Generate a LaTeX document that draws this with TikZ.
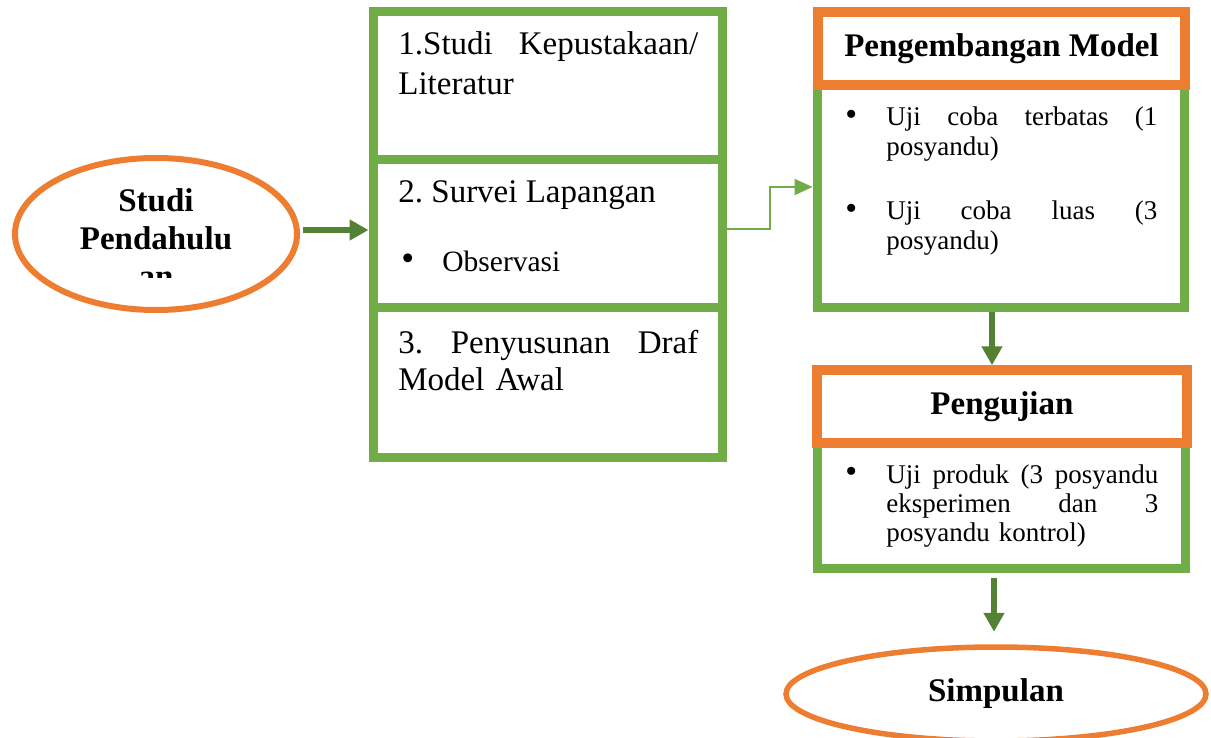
\documentclass[tikz,border=0pt]{standalone}
\usepackage{fontspec}
\setmainfont{Liberation Serif}
\usetikzlibrary{arrows.meta,shapes.geometric}
\definecolor{grn}{HTML}{70AD47}
\definecolor{org}{HTML}{ED7D31}
\definecolor{dgrn}{HTML}{548235}
\newcommand{\bul}{\makebox[20.5pt][l]{\raisebox{0.3pt}{\scalebox{1.25}{•}}}}
\frenchspacing
\begin{document}
\begin{tikzpicture}[x=0.5pt,y=-0.5pt,
  gbox/.style={draw=grn,line width=4.5pt,rectangle,inner sep=0pt},
  obox/.style={draw=org,fill=white,line width=4.75pt,rectangle,inner sep=0pt,font=\fontsize{16.5}{19}\selectfont\bfseries},
  oell/.style={ellipse,draw=org,inner sep=0pt,font=\fontsize{16.5}{19}\selectfont\bfseries},
  txt/.style={inner sep=0pt,anchor=base west,align=left,font=\fontsize{16.5}{19}\selectfont},
  btxt/.style={txt,text width=157pt,font=\fontsize{13.5}{14.75}\selectfont},
  darrow/.style={draw=dgrn,line width=2.75pt,-{Triangle[length=9.5pt,width=10pt]}},
  tarrow/.style={draw=grn,line width=1pt,-{Triangle[length=9pt,width=8pt]}}
]
\path[use as bounding box,fill=white] (0,0) rectangle (1211,738);

% left stack
\node[gbox,minimum width=174.5pt,minimum height=74pt] (s1) at (547.5,86) {};
\node[gbox,minimum width=174.5pt,minimum height=73.5pt] (s2) at (547.5,233.5) {};
\node[gbox,minimum width=174.5pt,minimum height=75pt] (s3) at (547.5,382) {};

\node[txt,text width=150pt,font=\fontsize{16.5}{20}\selectfont] (t1) at (398,55)
  {\makebox[150pt][l]{1.Studi\hfill Kepustakaan/}\\Literatur};
\node[txt] (t2) at (398,203) {2. Survei Lapangan};
\node[txt,font=\fontsize{14.75}{17}\selectfont] (t2b) at (401,271) {\bul Observasi};
\node[txt,text width=150pt,font=\fontsize{16.5}{18.5}\selectfont] (t3) at (398,353)
  {\makebox[150pt][l]{3.\hfill Penyusunan\hfill Draf}\\Model Awal};

% Pengembangan Model
\node[gbox,minimum width=183.5pt,minimum height=111pt] (pmbody) at (1000.5,196) {};
\node[obox,minimum width=183.5pt,minimum height=36.5pt] (pmhead) at (1001.5,48.5) {Pengembangan Model};
\node[btxt] (b1) at (845,126)
  {\bul\makebox[135.5pt][l]{Uji\hfill coba\hfill terbatas\hfill (1}\\\hspace*{20.5pt}posyandu)};
\node[btxt] (b2) at (845,220)
  {\bul\makebox[135.5pt][l]{Uji\hfill coba\hfill luas\hfill (3}\\\hspace*{20.5pt}posyandu)};

% Pengujian
\node[gbox,minimum width=184pt,minimum height=62.5pt] (pgbody) at (1001,505.5) {};
\node[obox,minimum width=185pt,minimum height=36.5pt] (pghead) at (1002,406.5) {Pengujian};
\node[btxt,font=\fontsize{13.5}{14.5}\selectfont] (b3) at (845,483)
  {\bul\makebox[136pt][l]{Uji\hfill produk\hfill (3\hfill posyandu}\\\hspace*{20.5pt}\makebox[136pt][l]{eksperimen\hfill dan\hfill 3}\\\hspace*{20.5pt}posyandu kontrol)};

% ellipses
\node[oell,line width=3pt,minimum width=141pt,minimum height=76pt] (studi) at (156,234) {};
\begin{scope}
\clip (0,0) rectangle (1211,277);
\node[font=\fontsize{16.5}{19}\selectfont\bfseries,text width=100pt,align=center,inner sep=0pt,anchor=base] (studitxt) at (156,212) {Studi\\Pendahulu\\an};
\end{scope}
\node[oell,line width=2.75pt,minimum width=210pt,minimum height=47pt] (simp) at (996,694) {Simpulan};

% connectors
\draw[darrow] ([xshift=1.5pt,yshift=2pt]studi.east) -- ([yshift=1.75pt]s2.west);
\draw[tarrow] ([yshift=2.25pt]s2.east) -- ++(43.5,0) |- ([yshift=4.5pt]pmbody.west);
\draw[darrow] ([xshift=-4.25pt]pmbody.south) -- ([xshift=-5pt]pghead.north);
\draw[darrow,shorten <=2.75pt,shorten >=6.25pt] ([xshift=-3.5pt]pgbody.south) -- ([xshift=-1pt]simp.north);
\end{tikzpicture}
\end{document}
